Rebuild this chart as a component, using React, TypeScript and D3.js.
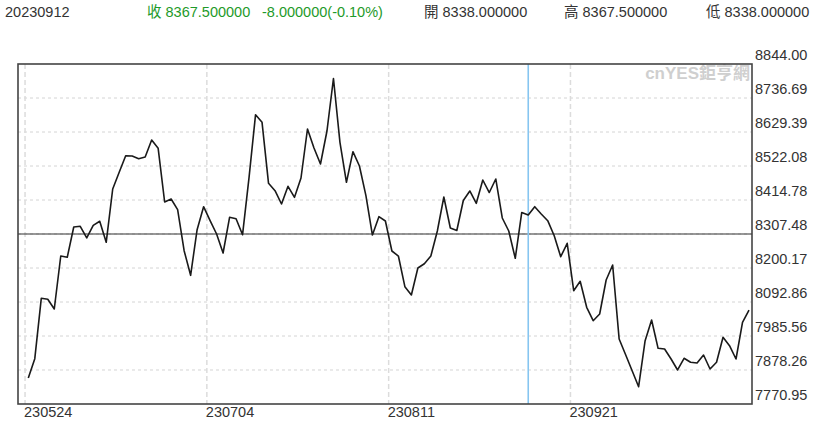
import React from "react";
import * as d3 from "d3";

// ---- data ----
const closes: number[] = [
  7853.0, 7913.9, 8104.5, 8101.4, 8070.8, 8238.0, 8233.9, 8329.6, 8331.8, 8294.9,
  8334.9, 8347.6, 8281.3, 8449.5, 8502.2, 8554.6, 8553.6, 8545.1, 8550.5, 8604.1,
  8577.9, 8408.5, 8417.9, 8384.2, 8254.8, 8177.1, 8321.0, 8393.6, 8349.5, 8307.5,
  8247.5, 8360.2, 8355.8, 8305.3, 8486.4, 8684.0, 8660.0, 8467.5, 8444.1, 8402.2,
  8458.0, 8423.3, 8484.2, 8638.9, 8578.9, 8528.4, 8632.5, 8798.2, 8596.9, 8470.6,
  8567.2, 8522.1, 8428.4, 8304.3, 8362.1, 8348.5, 8253.8, 8238.0, 8141.2, 8115.0,
  8200.2, 8213.7, 8238.0, 8316.9, 8424.2, 8326.4, 8318.5, 8413.2, 8443.2, 8404.4,
  8477.9, 8438.4, 8481.1, 8358.0, 8316.9, 8230.8, 8375.5, 8367.5, 8393.6, 8370.6,
  8349.5, 8302.1, 8235.8, 8278.1, 8128.5, 8158.2, 8076.1, 8033.9, 8055.0, 8162.3,
  8209.6, 7976.1, 7926.5, 7876.0, 7825.5, 7970.7, 8036.1, 7946.7, 7944.5, 7913.0,
  7878.3, 7915.2, 7902.6, 7900.4, 7925.6, 7881.4, 7902.6, 7981.5, 7955.0, 7913.0,
  8028.8, 8067.6,
];

const yTickLabels: string[] = [
  "8844.00", "8736.69", "8629.39", "8522.08", "8414.78", "8307.48",
  "8200.17", "8092.86", "7985.56", "7878.26", "7770.95",
];

const xTickLabels: string[] = ["230524", "230704", "230811", "230921"];
const xTickIndex: number[] = [0, 28, 56, 84];

const selectedIndex = 77; // 20230912
const crosshairValue = 8307.48;

const headerDate = "20230912";
const headerClose = "收 8367.500000";
const headerChange = "-8.000000(-0.10%)";
const headerOpen = "開 8338.000000";
const headerHigh = "高 8367.500000";
const headerLow = "低 8338.000000";
const watermark = "cnYES鉅亨網";

// ---- layout ----
const W = 819;
const H = 427;
const frameL = 18;
const frameR = 752;
const frameT = 64;
const frameB = 404;

const FONT = "'Liberation Sans', Arial, 'Noto Sans CJK TC', sans-serif";

export default function App() {
  const yMin = parseFloat(yTickLabels[yTickLabels.length - 1]);
  const yMax = parseFloat(yTickLabels[0]);
  const x = d3.scaleLinear().domain([0, closes.length - 1]).range([28.3, 749]);
  const y = d3.scaleLinear().domain([yMin, yMax]).range([frameB, frameT]);
  const step = x(1) - x(0);

  const line = d3
    .line<number>()
    .x((_, i) => x(i))
    .y((d) => y(d));

  const tickVals = yTickLabels.map((t) => parseFloat(t));

  return (
    <svg
      width={W}
      height={H}
      style={{ position: "absolute", left: 0, top: 0, background: "#fff" }}
      fontFamily={FONT}
    >
      <rect x={0} y={0} width={W} height={H} fill="#fff" />

      {/* header */}
      <g fontSize={14.5}>
        <text x={5} y={17} fill="#333">{headerDate}</text>
        <text x={147} y={17} fill="#1e9a2a">{headerClose}</text>
        <text x={262} y={17} fill="#1e9a2a">{headerChange}</text>
        <text x={424} y={17} fill="#333">{headerOpen}</text>
        <text x={564} y={17} fill="#333">{headerHigh}</text>
        <text x={706} y={17} fill="#333">{headerLow}</text>
      </g>

      {/* horizontal grid */}
      {tickVals.slice(1, -1).map((v, i) => (
        <line
          key={"hg" + i}
          x1={frameL}
          x2={frameR}
          y1={y(v)}
          y2={y(v)}
          stroke="#d4d4d4"
          strokeWidth={1}
          strokeDasharray="3,3"
        />
      ))}

      {/* vertical grid */}
      {xTickIndex.map((idx, i) => (
        <line
          key={"vg" + i}
          x1={x(idx) - step / 2}
          x2={x(idx) - step / 2}
          y1={frameT}
          y2={frameB}
          stroke="#dcdcdc"
          strokeWidth={1.5}
          strokeDasharray="5,3"
        />
      ))}

      {/* watermark */}
      <text
        x={750}
        y={79}
        textAnchor="end"
        fontSize={17}
        fontWeight="bold"
        fill="#cfcfcf"
      >
        {watermark}
      </text>

      {/* crosshair */}
      <line
        x1={frameL}
        x2={frameR}
        y1={y(crosshairValue)}
        y2={y(crosshairValue)}
        stroke="#333"
        strokeWidth={1.2}
      />
      <line
        x1={x(selectedIndex)}
        x2={x(selectedIndex)}
        y1={frameT}
        y2={frameB}
        stroke="#86c5f0"
        strokeWidth={1.6}
      />

      {/* price line */}
      <path
        d={line(closes) || ""}
        fill="none"
        stroke="#1a1a1a"
        strokeWidth={1.6}
        strokeLinejoin="round"
      />

      {/* frame */}
      <rect
        x={frameL}
        y={frameT}
        width={frameR - frameL}
        height={frameB - frameT}
        fill="none"
        stroke="#444"
        strokeWidth={1.6}
      />

      {/* y labels */}
      <g fontSize={14.5} fill="#333">
        {tickVals.map((v, i) => (
          <text key={"yl" + i} x={755} y={y(v) - 4}>
            {yTickLabels[i]}
          </text>
        ))}
      </g>

      {/* x labels */}
      <g fontSize={14.5} fill="#333">
        {xTickIndex.map((idx, i) => (
          <text key={"xl" + i} x={x(idx) - step / 2 - 1} y={417}>
            {xTickLabels[i]}
          </text>
        ))}
      </g>
    </svg>
  );
}
